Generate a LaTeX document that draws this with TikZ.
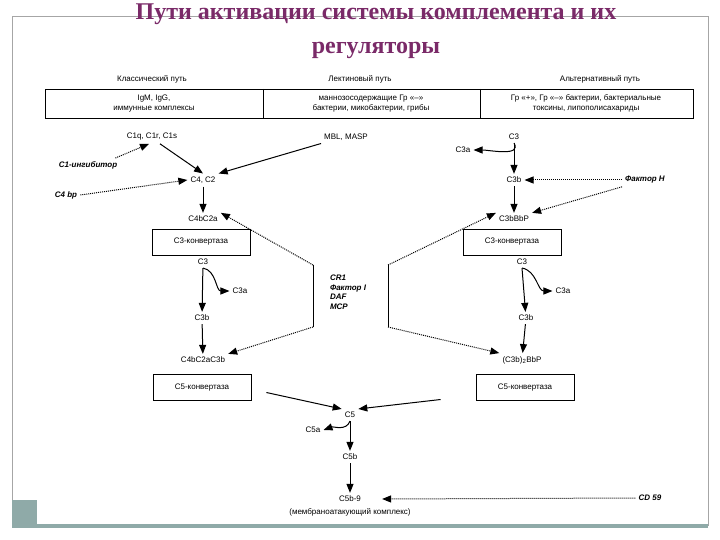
\documentclass[tikz,border=0pt]{standalone}
\usepackage{fontspec}
\setmainfont{Liberation Sans}
\newfontfamily\titlefont{Liberation Serif}
\usetikzlibrary{arrows.meta}
\definecolor{titlec}{HTML}{7A2A68}
\definecolor{barc}{HTML}{8FAAA8}
\begin{document}
\begin{tikzpicture}[x=1pt,y=-1pt,
  lbl/.style={font=\fontsize{8}{9.5}\selectfont,inner sep=3pt},
  reg/.style={font=\fontsize{8}{9.5}\selectfont\bfseries\itshape,inner sep=3pt},
  box/.style={draw,line width=0.8pt,minimum width=98pt,minimum height=26pt,font=\fontsize{8}{9.5}\selectfont},
  sa/.style={-{Triangle[length=9pt,width=7pt]},line width=1pt},
  da/.style={-{Triangle[length=9pt,width=7pt]},line width=1pt,densely dotted}]
\useasboundingbox (0,0) rectangle (720,540);
% slide frame
\draw[gray!70,line width=0.6pt] (12,526) -- (12,16) -- (708,16) -- (708,526);
\fill[barc] (12,524) rectangle (708,528);
\fill[barc] (12,500) rectangle (37,528);
\node[font=\titlefont\fontsize{24}{34}\selectfont\bfseries,text=titlec,align=center] (title) at (376,31) {Пути активации системы комплемента и их\\регуляторы};
% header
\node[lbl] (h1) at (152,79) {Классический путь};
\node[lbl] (h2) at (360,79) {Лектиновый путь};
\node[lbl] (h3) at (600,79) {Альтернативный путь};
\draw[line width=0.8pt] (45,89) rectangle (693,118);
\draw[line width=0.6pt] (263,89) -- (263,118) (480,89) -- (480,118);
\node[lbl,align=center] (t1) at (154,103.5) {IgM, IgG,\\иммунные комплексы};
\node[lbl,align=center] (t2) at (371,103.5) {маннозосодержащие Гр «–»\\бактерии, микобактерии, грибы};
\node[lbl,align=center] (t3) at (586,103.5) {Гр «+», Гр «–» бактерии, бактериальные\\токсины, липополисахариды};
% classical / lectin
\node[lbl] (c1) at (152,137) {C1q, C1r, C1s};
\node[lbl] (mbl) at (346,137) {MBL, MASP};
\node[reg] (c1inh) at (88,165) {C1-ингибитор};
\node[lbl] (c42) at (203,180) {C4, C2};
\node[reg] (c4bp) at (66,195) {C4 bp};
\node[lbl] (c4b2a) at (203,219) {C4bC2a};
\node[box] (conv3l) at (201,242) {C3-конвертаза};
\node[lbl] (c3l) at (203,262) {C3};
\node[lbl] (c3al) at (240,291) {C3a};
\node[lbl] (c3bl) at (202,318) {C3b};
\node[lbl] (c5cl) at (203,360) {C4bC2aC3b};
\node[box] (conv5l) at (202,387.5) {C5-конвертаза};
\draw[da] ([xshift=-5pt]c1inh.north east) -- ([xshift=-3pt]c1.south);
\draw[sa] ([xshift=8pt]c1.south) -- (c42.north);
\draw[sa] (mbl.south west) -- (c42.north east);
\draw[da] (c4bp.east) -- (c42.west);
\draw[sa] (c42) -- (c4b2a);
\draw[sa] (c3l) -- (c3bl);
\draw[sa] (c3bl) -- (c5cl);
\draw[sa] (c3l.south) to[out=-10,in=180] (c3al.west);
% alternative
\node[lbl] (c3r0) at (514,137) {C3};
\node[lbl] (c3ar0) at (463,150) {C3a};
\node[lbl] (c3br0) at (514,180) {C3b};
\node[reg] (fh) at (645,180) {Фактор H};
\node[lbl] (c3bbbp) at (514,219) {C3bBbP};
\node[box] (conv3r) at (512,242) {C3-конвертаза};
\node[lbl] (c3r) at (522,262) {C3};
\node[lbl] (c3ar) at (563,291) {C3a};
\node[lbl] (c3br) at (526,318) {C3b};
\node[lbl] (c5cr) at (522,360) {(C3b)\textsubscript{2}BbP};
\node[box] (conv5r) at (525,387.5) {C5-конвертаза};
\draw[sa] (c3r0) -- (c3br0);
\draw[sa] (c3r0.south) to[out=-60,in=0] (c3ar0.east);
\draw[da] (fh.west) -- (c3br0.east);
\draw[da] (fh.south west) -- (c3bbbp.north east);
\draw[sa] (c3br0) -- (c3bbbp);
\draw[sa] (c3r.south) -- (c3br);
\draw[sa] (c3br) -- (c5cr);
\draw[sa] (c3r.south) to[out=-10,in=180] (c3ar.west);
% regulators
\node[reg,align=left] (regs) at (348,292) {CR1\\Фактор I\\DAF\\MCP};
\coordinate (lt) at (313,265); \coordinate (lb) at (313,327);
\coordinate (rt) at (388,265); \coordinate (rb) at (388,327);
\draw[line width=0.8pt] (lt) -- (lb);
\draw[line width=0.8pt] (rt) -- (rb);
\draw[da] (lt) -- (c4b2a.north east);
\draw[da] (lb) -- (c5cl.north east);
\draw[da] (rt) -- (c3bbbp.north west);
\draw[da] (rb) -- (c5cr.north west);
% terminal
\node[lbl] (c5) at (350,415) {C5};
\node[lbl] (c5a) at (313,430) {C5a};
\node[lbl] (c5b) at (350,457) {C5b};
\node[lbl] (c5b9) at (350,499) {C5b-9};
\node[lbl] (mac) at (350,512) {(мембраноатакующий комплекс)};
\node[reg] (cd59) at (650,498) {CD 59};
\draw[sa] (conv5l.east) ++(15,5) coordinate (l5) -- (c5.north west);
\draw[sa] (conv5r.west) ++(-35,12) coordinate (r5) -- (c5.north east);
\draw[sa] (c5.south) -- (c5b.north);
\draw[sa] (c5.south) to[out=-110,in=20] (c5a.east);
\draw[sa] (c5b) -- (c5b9);
\draw[da] (cd59.west) -- ([xshift=18pt]c5b9.east);
\end{tikzpicture}
\end{document}
